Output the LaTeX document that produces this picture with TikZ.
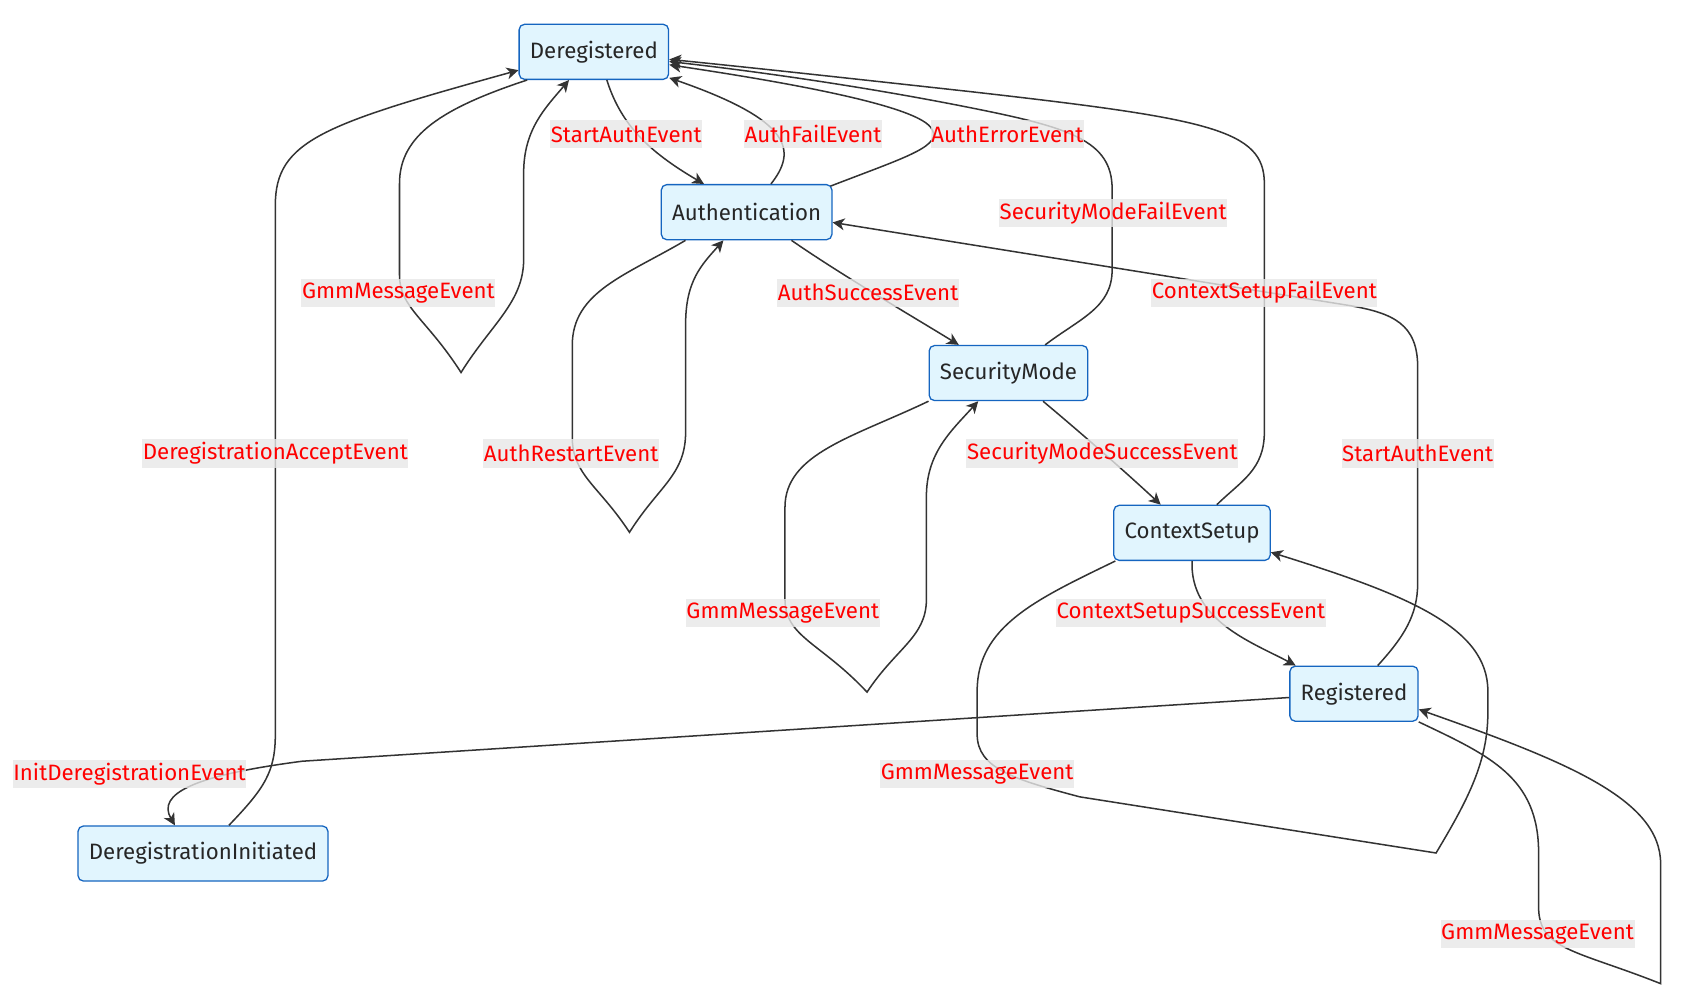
\documentclass[tikz,border=0pt]{standalone}
\usepackage{fontspec}
\setmainfont{Fira Sans}
\usetikzlibrary{arrows.meta}
\definecolor{nodefill}{HTML}{E1F5FE}
\definecolor{nodeline}{HTML}{1565C0}
\definecolor{edgecol}{HTML}{333333}
\definecolor{lblbg}{HTML}{E8E8E8}
\tikzset{
  state/.style={draw=nodeline, fill=nodefill, line width=0.6pt, rounded corners=2.5pt,
    minimum height=25.5pt, inner xsep=5pt, text=black!85, font=\fontsize{10.3}{12}\selectfont},
  lbl/.style={fill=lblbg, fill opacity=0.8, text opacity=1, text=red, inner xsep=0.3pt,
    inner ysep=0pt, minimum height=13pt, font=\fontsize{10.3}{12}\selectfont},
  tr/.style={draw=edgecol, line width=0.7pt, -{Stealth[length=5.5pt,width=5.5pt,inset=1.6pt]}}
}
\begin{document}
\begin{tikzpicture}[x=0.5pt,y=-0.5pt]
\useasboundingbox[fill=white] (0,0) rectangle (1568,932);
% states
\node[state] (dereg) at (550,48) {Deregistered};
\node[state] (auth) at (691.5,196.5) {Authentication};
\node[state] (secm) at (934,345.5) {SecurityMode};
\node[state] (ctx) at (1104,493.5) {ContextSetup};
\node[state] (reg) at (1254,642.5) {Registered};
\node[state] (deinit) at (188,790.5) {DeregistrationInitiated};
% transitions
\draw[tr] ([xshift=6pt]dereg.south) .. controls (575,115) and (600,140) .. ([xshift=-19.75pt]auth.north);
\draw[tr] ([xshift=11.25pt]auth.north) .. controls (738,140) and (735,112) .. ([yshift=1pt]dereg.south east);
\draw[tr] ([xshift=-1pt,yshift=-1pt]auth.north east) .. controls (840,145) and (875,135) .. (862,118) .. controls (845,95) and (700,72) .. ([yshift=-6pt]dereg.east);
\draw[tr] ([xshift=17pt]secm.north) .. controls (1000,295) and (1030,285) .. (1030,250) -- (1030,175) .. controls (1030,130) and (990,118) .. (900,100) .. controls (800,80) and (700,66) .. ([yshift=-4.5pt]dereg.east);
\draw[tr] ([xshift=11.5pt]ctx.north) .. controls (1150,445) and (1171,435) .. (1171,400) -- (1171,170) .. controls (1171,120) and (1120,110) .. (900,85) .. controls (800,74) and (700,63) .. ([yshift=-3.5pt]dereg.east);
\draw[tr] ([xshift=11pt]reg.north) .. controls (1300,590) and (1313,570) .. (1313,540) -- (1313,340) .. controls (1313,300) and (1290,290) .. (1250,283) -- ([yshift=-4.75pt]auth.east);
\draw[tr] ([xshift=20.75pt]auth.south) .. controls (780,255) and (840,290) .. ([xshift=-23pt]secm.north);
\draw[tr] ([xshift=16pt]secm.south) .. controls (1000,400) and (1040,435) .. ([xshift=-14.5pt]ctx.north);
\draw[tr] (ctx.south) .. controls (1102,575) and (1160,595) .. ([xshift=-27pt]reg.north);
\draw[tr] ([yshift=-1.75pt]reg.west) -- (280,705) .. controls (180,718) and (145,735) .. ([xshift=-13pt]deinit.north);
\draw[tr] ([xshift=12pt]deinit.north) .. controls (245,730) and (255,715) .. (255,680) -- (255,190) .. controls (255,130) and (300,115) .. ([yshift=-8.5pt]dereg.west);
% self loops
\draw[tr] ([xshift=4pt]dereg.south west) .. controls (410,100) and (370,125) .. (370,170) -- (370,255) .. controls (370,285) and (395,295) .. (427,345) .. controls (455,300) and (485,280) .. (485,240) -- (485,160) .. controls (485,120) and (505,100) .. ([xshift=-11.5pt]dereg.south);
\draw[tr] ([xshift=11.5pt]auth.south west) .. controls (580,255) and (530,270) .. (530,320) -- (530,405) .. controls (530,440) and (555,450) .. (583,493) .. controls (610,450) and (635,440) .. (635,400) -- (635,300) .. controls (635,260) and (650,245) .. ([xshift=-10.75pt]auth.south);
\draw[tr] (secm.south west) .. controls (790,405) and (727,420) .. (727,470) -- (727,555) .. controls (727,590) and (760,595) .. (803,641) .. controls (830,600) and (858,590) .. (858,555) -- (858,460) .. controls (858,420) and (880,400) .. ([xshift=-14pt]secm.south);
\draw[tr] ([xshift=1pt]ctx.south west) .. controls (960,555) and (905,580) .. (905,640) -- (905,680) .. controls (905,712) and (940,722) .. (1000,738) -- (1330,790) .. controls (1360,740) and (1378,705) .. (1378,660) -- (1378,640) .. controls (1378,580) and (1300,550) .. ([yshift=-9pt]ctx.east);
\draw[tr] (reg.south east) .. controls (1380,700) and (1425,720) .. (1425,790) -- (1425,840) .. controls (1425,880) and (1460,880) .. (1538,911) -- (1538,800) .. controls (1538,740) and (1450,705) .. ([yshift=-7.25pt]reg.east);
% labels
\node[lbl] (l1) at (580,124) {StartAuthEvent};
\node[lbl] (l2) at (753,124) {AuthFailEvent};
\node[lbl] (l3) at (933,124) {AuthErrorEvent};
\node[lbl] (l4) at (1031,197) {SecurityModeFailEvent};
\node[lbl] (l5) at (369,271) {GmmMessageEvent};
\node[lbl] (l6) at (804,271) {AuthSuccessEvent};
\node[lbl] (l7) at (1171,271) {ContextSetupFailEvent};
\node[lbl] (l8) at (255,420) {DeregistrationAcceptEvent};
\node[lbl] (l9) at (529,420) {AuthRestartEvent};
\node[lbl] (l10) at (1021,420) {SecurityModeSuccessEvent};
\node[lbl] (l11) at (1313,420) {StartAuthEvent};
\node[lbl] (l12) at (725,568) {GmmMessageEvent};
\node[lbl] (l13) at (1103,568) {ContextSetupSuccessEvent};
\node[lbl] (l14) at (120,717) {InitDeregistrationEvent};
\node[lbl] (l15) at (905,717) {GmmMessageEvent};
\node[lbl] (l16) at (1424,865) {GmmMessageEvent};
\end{tikzpicture}
\end{document}
